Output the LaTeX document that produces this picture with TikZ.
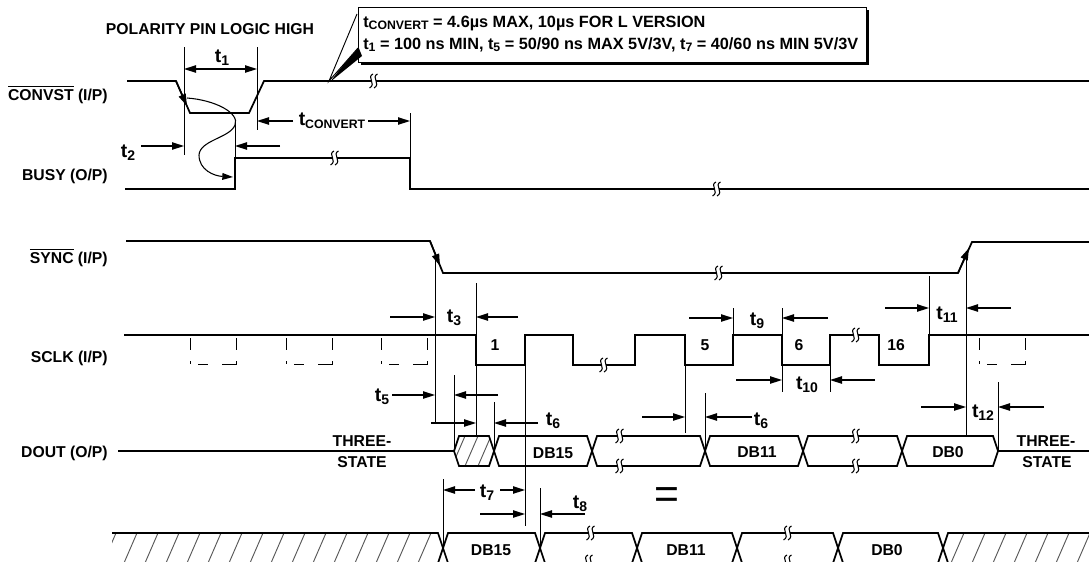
\documentclass[tikz,border=0pt]{standalone}
\usepackage{fontspec}
\setmainfont{Liberation Sans}
\usetikzlibrary{arrows.meta}
\newcommand\myovl[1]{\leavevmode\vbox{\hrule height 0.7pt\kern 1.2pt\hbox{#1}}}
\newcommand\tlab[1]{{\fontsize{14.5}{14}\selectfont t}\raisebox{-2pt}{\fontsize{10.5}{10}\selectfont #1}}
\newcommand\tcal[1]{t\raisebox{-2pt}{\fontsize{9.2}{9}\selectfont #1}}
\begin{document}
\begin{tikzpicture}[x=0.75pt,y=-0.75pt,
  font=\bfseries\fontsize{11.8}{13}\selectfont,
  sig/.style={line width=1.3pt},
  tline/.style={line width=0.7pt},
  arr/.style={line width=1.1pt,-{Triangle[length=9pt,width=5.5pt]}},
  lab/.style={inner sep=0pt},
  hatchln/.style={line width=0.7pt, gray!70!black},
  brkmark/.pic={
    \fill[white] (-2.5,-2) rectangle (2.5,2);
    \draw[line width=0.8pt] (0,-7) .. controls (-7,-4) and (4,3) .. (-3.5,7);
    \draw[line width=0.8pt] (4.5,-7) .. controls (-2.5,-4) and (8.5,3) .. (1,7);
  },
  dpulse/.pic={
    \draw[tline] (0,3)--(0,15) (0,26)--(0,29) (8,29)--(18,29) (32,29)--(46,29)--(46,26) (46,3)--(46,15);
  }
]
\fill[white] (0,0) rectangle (1089,561);
\useasboundingbox (0,0) rectangle (1089,561);

% ---------- signal labels ----------
\node[lab,anchor=base east] (lconv) at (108,100) {\myovl{CONVST} (I/P)};
\node[lab,anchor=base east] (lbusy) at (108,180) {BUSY (O/P)};
\node[lab,anchor=base east] (lsync) at (108,263) {\myovl{SYNC} (I/P)};
\node[lab,anchor=base east] (lsclk) at (108,362) {SCLK (I/P)};
\node[lab,anchor=base east] (ldout) at (108,457) {DOUT (O/P)};
\node[lab,anchor=base] (lpol) at (210,34) {POLARITY PIN LOGIC HIGH};

% ---------- callout ----------
\fill[black] (361,10) rectangle (869,65);
\draw[tline,fill=white] (358,7) rectangle (866,62);
\fill[black] (358,46) -- (330,82) -- (362,56) -- cycle;
\fill[white] (357,14) -- (329,81) -- (358,48) -- cycle;
\draw[tline] (357,14) -- (329,81) -- (358,48);
\node[lab,anchor=base west] (c1) at (363,27) {\fontsize{12.2}{12}\selectfont \tcal{CONVERT} = 4.6µs MAX, 10µs FOR L VERSION};
\node[lab,anchor=base west] (c2) at (363,49) {\fontsize{12.2}{12}\selectfont \tcal{1} = 100 ns MIN, \tcal{5} = 50/90 ns MAX 5V/3V, \tcal{7} = 40/60 ns MIN 5V/3V};

% ---------- CONVST ----------
\draw[sig] (127,81) -- (176,81) -- (190,113) -- (249,113) -- (264,81) -- (1089,81);
\draw[arr] (176,81) -- (187,106);
\pic at (373,81) {brkmark};

% ---------- BUSY ----------
\draw[sig] (125,189) -- (235,189) -- (235,158) -- (410,158) -- (410,189) -- (1089,189);
\pic at (334,158) {brkmark};
\pic at (716,189) {brkmark};
\draw[line width=0.8pt,-{Triangle[length=8pt,width=5pt]}] (187,98) .. controls (215,100) and (240,113) .. (235,125) .. controls (230,138) and (200,140) .. (199,155) .. controls (199,170) and (214,176) .. (233,177);

% timing lines top
\draw[tline] (184,47) -- (184,155);
\draw[tline] (257,47) -- (257,130);
\draw[tline] (235,123) -- (235,158);
\draw[tline] (410,113) -- (410,158);
\draw[arr,{Triangle[length=9pt,width=5.5pt]}-{Triangle[length=9pt,width=5.5pt]}] (184,69) -- (257,69);
\node[lab] (t1) at (222,58) {\tlab{1}};
\draw[arr] (141,146) -- (184,146);
\draw[arr] (280,146) -- (235,146);
\node[lab] (t2) at (128,153) {\tlab{2}};
\draw[arr] (293,121) -- (257,121);
\draw[arr] (368,121) -- (410,121);
\node[lab] (tconv) at (332,121) {{\fontsize{14.5}{14}\selectfont t}\raisebox{-2pt}{\fontsize{9.2}{9}\selectfont CONVERT}};

% ---------- SYNC ----------
\draw[sig] (126,241) -- (430,241) -- (443,273) -- (958,273) -- (972,242) -- (1089,242);
\draw[arr] (430,241) -- (440,266);
\draw[arr] (958,273) -- (969,248);
\pic at (718,273) {brkmark};

% ---------- SCLK ----------
\draw[sig] (124,335) -- (476,335) -- (476,365) -- (525,365) -- (525,335) -- (573,335) -- (573,365) -- (635,365) -- (635,335) -- (685,335) -- (685,365) -- (733,365) -- (733,335) -- (782,335) -- (782,365) -- (830,365) -- (830,335) -- (879,335) -- (879,365) -- (929,365) -- (929,335) -- (1089,335);
\pic at (603,365) {brkmark};
\pic at (855,335) {brkmark};
\pic at (190,335) {dpulse};
\pic at (286,335) {dpulse};
\pic at (381,335) {dpulse};
\pic at (979,335) {dpulse};
\node[lab,anchor=base] (n1) at (495,350) {1};
\node[lab,anchor=base] (n5) at (705,350) {5};
\node[lab,anchor=base] (n6) at (799,350) {6};
\node[lab,anchor=base] (n16) at (896,350) {16};

% ---------- DOUT ----------
\draw[sig] (118,451) -- (454,451);
\begin{scope}
\clip (454,451) -- (459,436) -- (489,436) -- (494,451) -- (489,466) -- (459,466) -- cycle;
\foreach \x in {452,465,478,491} \draw[hatchln] (\x,466) -- (\x+13,436);
\end{scope}
\draw[sig] (454,451) -- (459,436) -- (489,436) -- (494,451) -- (489,466) -- (459,466) -- cycle;
\draw[sig] (494,451) -- (499,436) -- (587,436) -- (592,451) -- (587,466) -- (499,466) -- cycle;
\draw[sig] (592,451) -- (597,436) -- (700,436) -- (705,451) -- (700,466) -- (597,466) -- cycle;
\draw[sig] (705,451) -- (710,436) -- (798,436) -- (803,451) -- (798,466) -- (710,466) -- cycle;
\draw[sig] (803,451) -- (808,436) -- (897,436) -- (902,451) -- (897,466) -- (808,466) -- cycle;
\draw[sig] (902,451) -- (907,436) -- (993,436) -- (998,451) -- (993,466) -- (907,466) -- cycle;
\draw[sig] (998,451) -- (1089,451);
\pic at (619,436) {brkmark};
\pic at (619,466) {brkmark};
\pic at (855,436) {brkmark};
\pic at (855,466) {brkmark};
\node[lab,anchor=base] (d15) at (553,458) {DB15};
\node[lab,anchor=base] (d11) at (757,457) {DB11};
\node[lab,anchor=base] (d0) at (948,457) {DB0};
\node[lab,anchor=base] (ts1a) at (362,446) {THREE-};
\node[lab,anchor=base] (ts1b) at (362,467) {STATE};
\node[lab,anchor=base] (ts2a) at (1046,446) {THREE-};
\node[lab,anchor=base] (ts2b) at (1047,467) {STATE};

% ---------- bottom row ----------
\begin{scope}
\clip (112,533) -- (438,533) -- (443,548) -- (438,563) -- (112,563) -- cycle;
\foreach \x in {103,124,...,460} \draw[hatchln] (\x,563) -- (\x+13,533);
\end{scope}
\begin{scope}
\clip (943,548) -- (948,533) -- (1095,533) -- (1095,563) -- (948,563) -- cycle;
\foreach \x in {930,951,...,1100} \draw[hatchln] (\x,563) -- (\x+13,533);
\end{scope}
\draw[sig] (112,533) -- (438,533) -- (443,548) -- (438,563);
\draw[sig] (443,548) -- (448,533) -- (535,533) -- (540,548) -- (535,563) -- (448,563) -- cycle;
\draw[sig] (540,548) -- (545,533) -- (632,533) -- (637,548) -- (632,563) -- (545,563) -- cycle;
\draw[sig] (637,548) -- (642,533) -- (732,533) -- (737,548) -- (732,563) -- (642,563) -- cycle;
\draw[sig] (737,548) -- (742,533) -- (833,533) -- (838,548) -- (833,563) -- (742,563) -- cycle;
\draw[sig] (838,548) -- (843,533) -- (938,533) -- (943,548) -- (938,563) -- (843,563) -- cycle;
\draw[sig] (948,563) -- (943,548) -- (948,533) -- (1089,533);
\pic at (590,533) {brkmark};
\pic at (588,562) {brkmark};
\pic at (787,533) {brkmark};
\pic at (787,562) {brkmark};
\node[lab,anchor=base] (b15) at (491,555) {DB15};
\node[lab,anchor=base] (b11) at (686,555) {DB11};
\node[lab,anchor=base] (b0) at (887,555) {DB0};
\node[inner sep=0pt,font=\fontsize{32}{32}\selectfont] (eq) at (667,498) {=};

% ---------- timing lines middle ----------
\draw[tline] (476,283) -- (476,335);
\draw[tline] (476,365) -- (476,436);
\draw[tline] (435,254) -- (435,423);
\draw[tline] (454,375) -- (454,451);
\draw[tline] (494,402) -- (494,451);
\draw[tline] (525,365) -- (525,526);
\draw[tline] (443,479) -- (443,548);
\draw[tline] (540,488) -- (540,548);
\draw[tline] (685,365) -- (685,433);
\draw[tline] (705,393) -- (705,451);
\draw[tline] (733,308) -- (733,335);
\draw[tline] (782,308) -- (782,335);
\draw[tline] (782,365) -- (782,392);
\draw[tline] (830,365) -- (830,392);
\draw[tline] (929,276) -- (929,335);
\draw[tline] (966,255) -- (966,436);
\draw[tline] (998,382) -- (998,451);

% t3
\draw[arr] (390,317) -- (435,317);
\draw[arr] (518,317) -- (476,317);
\node[lab] (t3) at (454,318) {\tlab{3}};
% t5
\draw[arr] (392,395) -- (435,395);
\draw[arr] (498,395) -- (454,395);
\node[lab] (t5) at (382,397) {\tlab{5}};
% t6
\draw[arr] (431,423) -- (476,423);
\draw[arr] (538,423) -- (494,423);
\node[lab] (t6) at (553,421) {\tlab{6}};
% t7
\draw[arr] (475,490) -- (443,490);
\draw[arr] (500,490) -- (525,490);
\node[lab] (t7) at (487,493) {\tlab{7}};
% t8
\draw[arr] (480,514) -- (525,514);
\draw[arr] (585,514) -- (540,514);
\node[lab] (t8) at (580,504) {\tlab{8}};
% t6 second
\draw[arr] (642,417) -- (685,417);
\draw[arr] (752,417) -- (705,417);
\node[lab] (t6b) at (761,421) {\tlab{6}};
% t9
\draw[arr] (689,318) -- (733,318);
\draw[arr] (828,318) -- (782,318);
\node[lab] (t9) at (757,321) {\tlab{9}};
% t10
\draw[arr] (736,380) -- (782,380);
\draw[arr] (875,380) -- (830,380);
\node[lab] (t10) at (807,385) {\tlab{10}};
% t11
\draw[arr] (885,308) -- (929,308);
\draw[arr] (1011,308) -- (966,308);
\node[lab] (t11) at (947,315) {\tlab{11}};
% t12
\draw[arr] (921,407) -- (966,407);
\draw[arr] (1044,407) -- (998,407);
\node[lab] (t12) at (983,413) {\tlab{12}};
\end{tikzpicture}
\end{document}
